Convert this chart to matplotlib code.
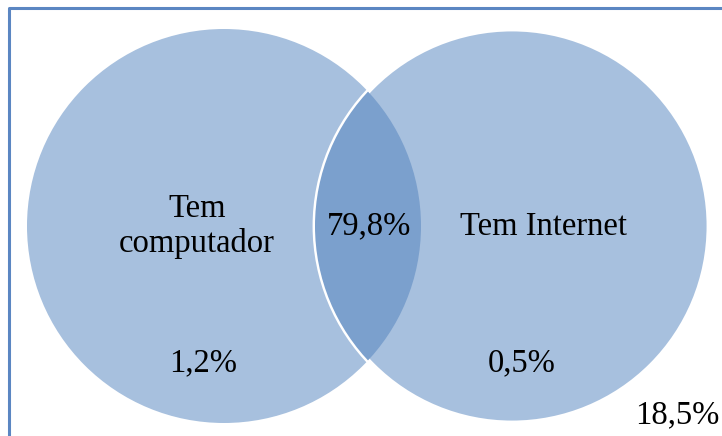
import matplotlib.pyplot as plt
from matplotlib.patches import Circle

# Venn: computer / internet access shares
set_labels = ["Tem\ncomputador", "Tem Internet"]
region_labels = ["1,2%", "79,8%", "0,5%", "18,5%"]  # only A, A&B, only B, neither

fig = plt.figure(figsize=(7.22, 4.36), dpi=100)
ax = fig.add_axes([0, 0, 1, 1])
ax.set_xlim(0, 722)
ax.set_ylim(436, 0)
ax.set_aspect('equal')
ax.axis('off')

fill = '#A7C0DE'
dark = '#7BA0CD'

c1 = (224, 226)
c2 = (512, 226)
r = 197

ax.add_patch(Circle(c1, r, facecolor=fill, edgecolor='none', zorder=1))
ax.add_patch(Circle(c2, r, facecolor=fill, edgecolor='white', lw=3.5, zorder=2))

# intersection lens, clipped by both circles
lens = Circle(c1, r, facecolor=dark, edgecolor='none', zorder=3)
ax.add_patch(lens)
lens.set_clip_path(Circle(c2, r, transform=ax.transData))

# frame (only top/left visible in reference)
ax.plot([9, 9, 722], [436, 8, 8], color='#5B86C2', lw=2.2, zorder=5, solid_capstyle='butt')

font = dict(family='Liberation Serif', fontsize=23.5, color='black', zorder=6)
ax.text(197, 226, set_labels[0], ha='center', va='center', linespacing=1.15, **font)
ax.text(543, 227, set_labels[1], ha='center', va='center', **font)
ax.text(203, 363, region_labels[0], ha='center', va='center', **font)
ax.text(369, 226, region_labels[1], ha='center', va='center', **font)
ax.text(522, 363, region_labels[2], ha='center', va='center', **font)
ax.text(677, 415, region_labels[3], ha='center', va='center', **font)

fig.savefig('out.png', dpi=100)
